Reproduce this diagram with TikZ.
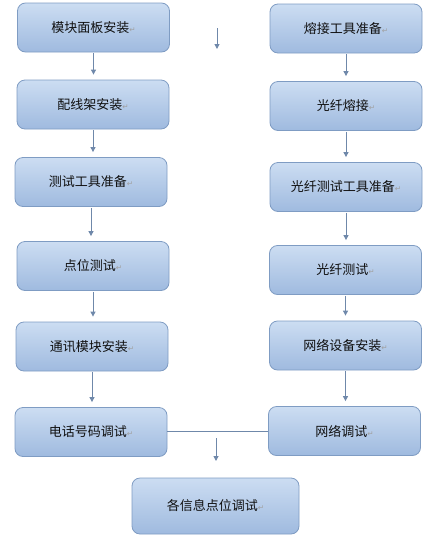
\documentclass[tikz,border=0pt]{standalone}
\usepackage{fontspec}
\usepackage{xcolor}
\usetikzlibrary{arrows.meta}
\newfontfamily\cjk{Noto Sans CJK SC}
\newfontfamily\symb{DejaVu Sans}
\definecolor{boxtop}{HTML}{CCDDF2}
\definecolor{boxbot}{HTML}{9FBADF}
\definecolor{boxline}{HTML}{7F9CC3}
\definecolor{arr}{HTML}{6F88AA}
\definecolor{txt}{HTML}{101010}
\definecolor{pmark}{HTML}{A0A0A0}
\newcommand{\ret}{{\symb\fontsize{7.5pt}{7.5pt}\selectfont\color{pmark}↵}}

\begin{document}
\begin{tikzpicture}[x=1pt, y=-1pt,
    >={Triangle[length=5pt, width=5pt]},
    B/.style={rectangle, rounded corners=8pt, minimum width=152pt, minimum height=49pt,
              draw=boxline, line width=0.8pt, top color=boxtop, bottom color=boxbot,
              text=txt, font=\cjk\fontsize{13pt}{15pt}\selectfont},
    A/.style={->, arr, line width=1pt, shorten <=1pt, shorten >=5pt}
]
\useasboundingbox (0,0) rectangle (440,539);

% === LEFT COLUMN ===
\node[B] (mk) at (93.5,27.5) {模块面板安装\ret};
\node[B] (px) at (93,104.5) {配线架安装\ret};
\node[B] (cs) at (91,182) {测试工具准备\ret};
\node[B] (dw) at (93,266) {点位测试\ret};
\node[B] (tx) at (92,346.5) {通讯模块安装\ret};
\node[B] (dh) at (91,432) {电话号码调试\ret};

\draw[A] (mk.south) -- (mk.south |- px.north);
\draw[A] (px.south) -- (px.south |- cs.north);
\draw[A] (cs.south) -- (cs.south |- dw.north);
\draw[A] (dw.south) -- (dw.south |- tx.north);
\draw[A] (tx.south) -- (tx.south |- dh.north);

% === RIGHT COLUMN ===
\node[B] (rj) at (346,28.5) {熔接工具准备\ret};
\node[B] (gr) at (346,106) {光纤熔接\ret};
\node[B] (gc) at (346,187) {光纤测试工具准备\ret};
\node[B] (gt) at (345.5,270) {光纤测试\ret};
\node[B] (wl) at (345.5,345.5) {网络设备安装\ret};
\node[B] (wt) at (344.5,431) {网络调试\ret};

\draw[A] (rj.south) -- (rj.south |- gr.north);
\draw[A] (gr.south) -- (gr.south |- gc.north);
\draw[A] (gc.south) -- (gc.south |- gt.north);
\draw[A] (gt.south) -- (gt.south |- wl.north);
\draw[A] (wl.south) -- (wl.south |- wt.north);

% stray arrow between columns
\coordinate (s1) at (217,28);
\coordinate (s2) at (217,49);
\draw[A, shorten <=0pt, shorten >=0pt] (s1) -- (s2);

% === BOTTOM ===
\node[B, minimum width=167pt, minimum height=56pt] (all) at (215.5,506) {各信息点位调试\ret};

\draw[arr, line width=1pt] (dh.east |- 0,431) -- (wt.west |- 0,431);
\coordinate (j1) at (216,438);
\coordinate (j2) at (216,461);
\draw[A, shorten <=0pt, shorten >=0pt] (j1) -- (j2);

\end{tikzpicture}
\end{document}
